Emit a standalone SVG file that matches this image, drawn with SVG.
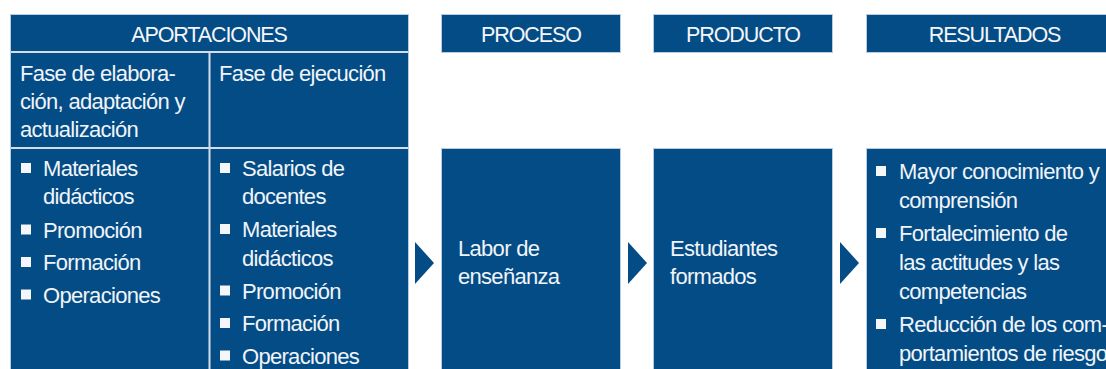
<svg xmlns="http://www.w3.org/2000/svg" width="1106" height="369" viewBox="0 0 1106 369">
<style>
.box{fill:#044c86;stroke:#b8cbe0;stroke-width:1}
.div{stroke:#d3deea;stroke-width:2;fill:none}
.hd{font-family:"Liberation Sans",Arial,sans-serif;font-size:21.5px;letter-spacing:-1.1px;fill:#f4f6f9;text-anchor:middle}
.tx{font-family:"Liberation Sans",Arial,sans-serif;font-size:22px;letter-spacing:-0.7px;fill:#f1f4f8}
.bl{fill:#f4f6f9}
.arr{fill:#044c86}
</style>
<rect width="1106" height="369" fill="#ffffff"/>
<g id="aportaciones">
<rect class="box" x="10.5" y="14.5" width="398" height="370"/>
<line class="div" x1="11" y1="52" x2="408" y2="52"/>
<line class="div" x1="11" y1="148" x2="408" y2="148"/>
<line class="div" x1="209.5" y1="52" x2="209.5" y2="384"/>
<text class="hd" x="209" y="41.5">APORTACIONES</text>
<text class="tx" x="20" y="81">Fase de elabora-</text>
<text class="tx" x="20" y="109">ción, adaptación y</text>
<text class="tx" x="20" y="137">actualización</text>
<text class="tx" x="219" y="81">Fase de ejecución</text>
<g>
<rect class="bl" x="21" y="163" width="10" height="10"/>
<text class="tx" x="43" y="176">Materiales</text>
<text class="tx" x="43" y="204">didácticos</text>
<rect class="bl" x="21" y="224.5" width="10" height="10"/>
<text class="tx" x="43" y="237.5">Promoción</text>
<rect class="bl" x="21" y="257" width="10" height="10"/>
<text class="tx" x="43" y="270">Formación</text>
<rect class="bl" x="21" y="289.5" width="10" height="10"/>
<text class="tx" x="43" y="302.5">Operaciones</text>
</g>
<g>
<rect class="bl" x="220" y="163" width="10" height="10"/>
<text class="tx" x="242" y="176">Salarios de</text>
<text class="tx" x="242" y="204">docentes</text>
<rect class="bl" x="220" y="224" width="10" height="10"/>
<text class="tx" x="242" y="237">Materiales</text>
<text class="tx" x="242" y="265.5">didácticos</text>
<rect class="bl" x="220" y="285.5" width="10" height="10"/>
<text class="tx" x="242" y="298.5">Promoción</text>
<rect class="bl" x="220" y="318" width="10" height="10"/>
<text class="tx" x="242" y="331">Formación</text>
<rect class="bl" x="220" y="350.5" width="10" height="10"/>
<text class="tx" x="242" y="363.5">Operaciones</text>
</g>
</g>
<g id="proceso">
<rect class="box" x="441.5" y="14.5" width="179" height="38"/>
<text class="hd" x="531" y="41.5">PROCESO</text>
<rect class="box" x="441.5" y="148.5" width="179" height="236"/>
<text class="tx" x="458" y="256">Labor de</text>
<text class="tx" x="458" y="284">enseñanza</text>
</g>
<g id="producto">
<rect class="box" x="653.5" y="14.5" width="179" height="38"/>
<text class="hd" x="743" y="41.5">PRODUCTO</text>
<rect class="box" x="653.5" y="148.5" width="179" height="236"/>
<text class="tx" x="670" y="256">Estudiantes</text>
<text class="tx" x="670" y="284">formados</text>
</g>
<g id="resultados">
<rect class="box" x="866.5" y="14.5" width="257" height="38"/>
<text class="hd" x="994.5" y="41.5">RESULTADOS</text>
<rect class="box" x="866.5" y="148.5" width="257" height="236"/>
<rect class="bl" x="876" y="166" width="10" height="10"/>
<text class="tx" x="899" y="179">Mayor conocimiento y</text>
<text class="tx" x="899" y="208">comprensión</text>
<rect class="bl" x="876" y="228" width="10" height="10"/>
<text class="tx" x="899" y="241">Fortalecimiento de</text>
<text class="tx" x="899" y="270">las actitudes y las</text>
<text class="tx" x="899" y="299">competencias</text>
<rect class="bl" x="876" y="319" width="10" height="10"/>
<text class="tx" x="899" y="332">Reducción de los com-</text>
<text class="tx" x="899" y="361">portamientos de riesgo</text>
</g>
<g id="connectors">
<polygon class="arr" points="415,242 434,263 415,284"/>
<polygon class="arr" points="628,242 647,263 628,284"/>
<polygon class="arr" points="840,242 859,263 840,284"/>
</g>
</svg>
